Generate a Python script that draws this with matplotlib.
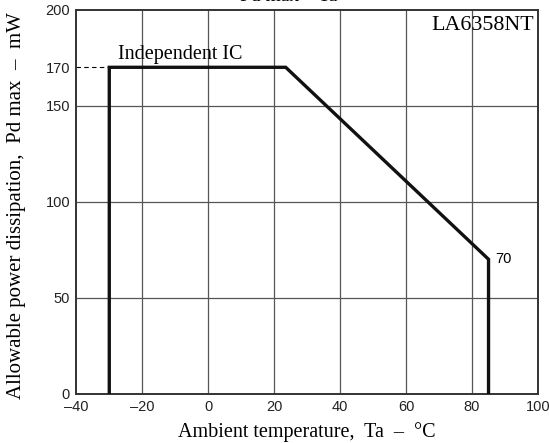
import matplotlib
matplotlib.use("Agg")
import matplotlib.pyplot as plt

# derating curve
ta = [-30, -30, 23.5, 85, 85]
pd_max = [0, 170, 170, 70, 0]

x_ticks = [-40, -20, 0, 20, 40, 60, 80, 100]
y_ticks = [0, 50, 100, 150, 170, 200]
y_grid = [50, 100, 150]
x_grid = [-20, 0, 20, 40, 60, 80]

SERIF = "Liberation Serif"
SANS = "Liberation Sans"
W, H = 549, 443

fig = plt.figure(figsize=(W / 100, H / 100), dpi=100)
ax = fig.add_axes([76.3 / W, 1 - 393.7 / H, (538 - 76.3) / W, (393.7 - 9.7) / H])

for g in x_grid:
    ax.axvline(g, color="#555555", lw=0.9, zorder=1)
for g in y_grid:
    ax.axhline(g, color="#555555", lw=0.9, zorder=1)

ax.plot([-40, -30], [170, 170], color="black", lw=0.8, ls=(0, (4, 3)), zorder=2)
ax.plot(ta, pd_max, color="#111111", lw=2.4, solid_joinstyle="miter", zorder=3)

ax.set_xlim(-40, 100)
ax.set_ylim(0, 200)
ax.set_xticks(x_ticks)
ax.set_yticks(y_ticks)
ax.set_xticklabels([str(v).replace("-", "\u2013") for v in x_ticks], family=SANS, fontsize=10.5)
ax.set_yticklabels([str(v) for v in y_ticks], family=SANS, fontsize=10.5)
ax.tick_params(axis="x", length=0, pad=4.5, colors="#222222")
ax.tick_params(axis="y", length=0, pad=4.5, colors="#222222")
for s in ax.spines.values():
    s.set_linewidth(1.4)
    s.set_color("#333333")

fig.text(307 / W, 1 - 436.7 / H, "Ambient temperature,  Ta  \u2013  \u00b0C",
         family=SERIF, fontsize=14.5, ha="center", va="baseline")
fig.text(17 / W, 1 - 206 / H, "Allowable power dissipation,  Pd max  \u2013  mW",
         family=SERIF, fontsize=15, ha="center", va="center", rotation=90)

ax.text(-27.3, 174.2, "Independent IC", family=SERIF, fontsize=14.5, va="baseline", ha="left")
ax.text(98.8, 191.8, "LA6358NT", family=SERIF, fontsize=15.8, va="center", ha="right")
ax.text(87, 70.2, "70", family=SANS, fontsize=10.5, va="center", ha="left")

fig.text(289 / W, 1 - 5 / H, "Pd max \u2013 Ta", family=SERIF, fontsize=14, ha="center", va="bottom")

fig.savefig("out.png", dpi=100)
